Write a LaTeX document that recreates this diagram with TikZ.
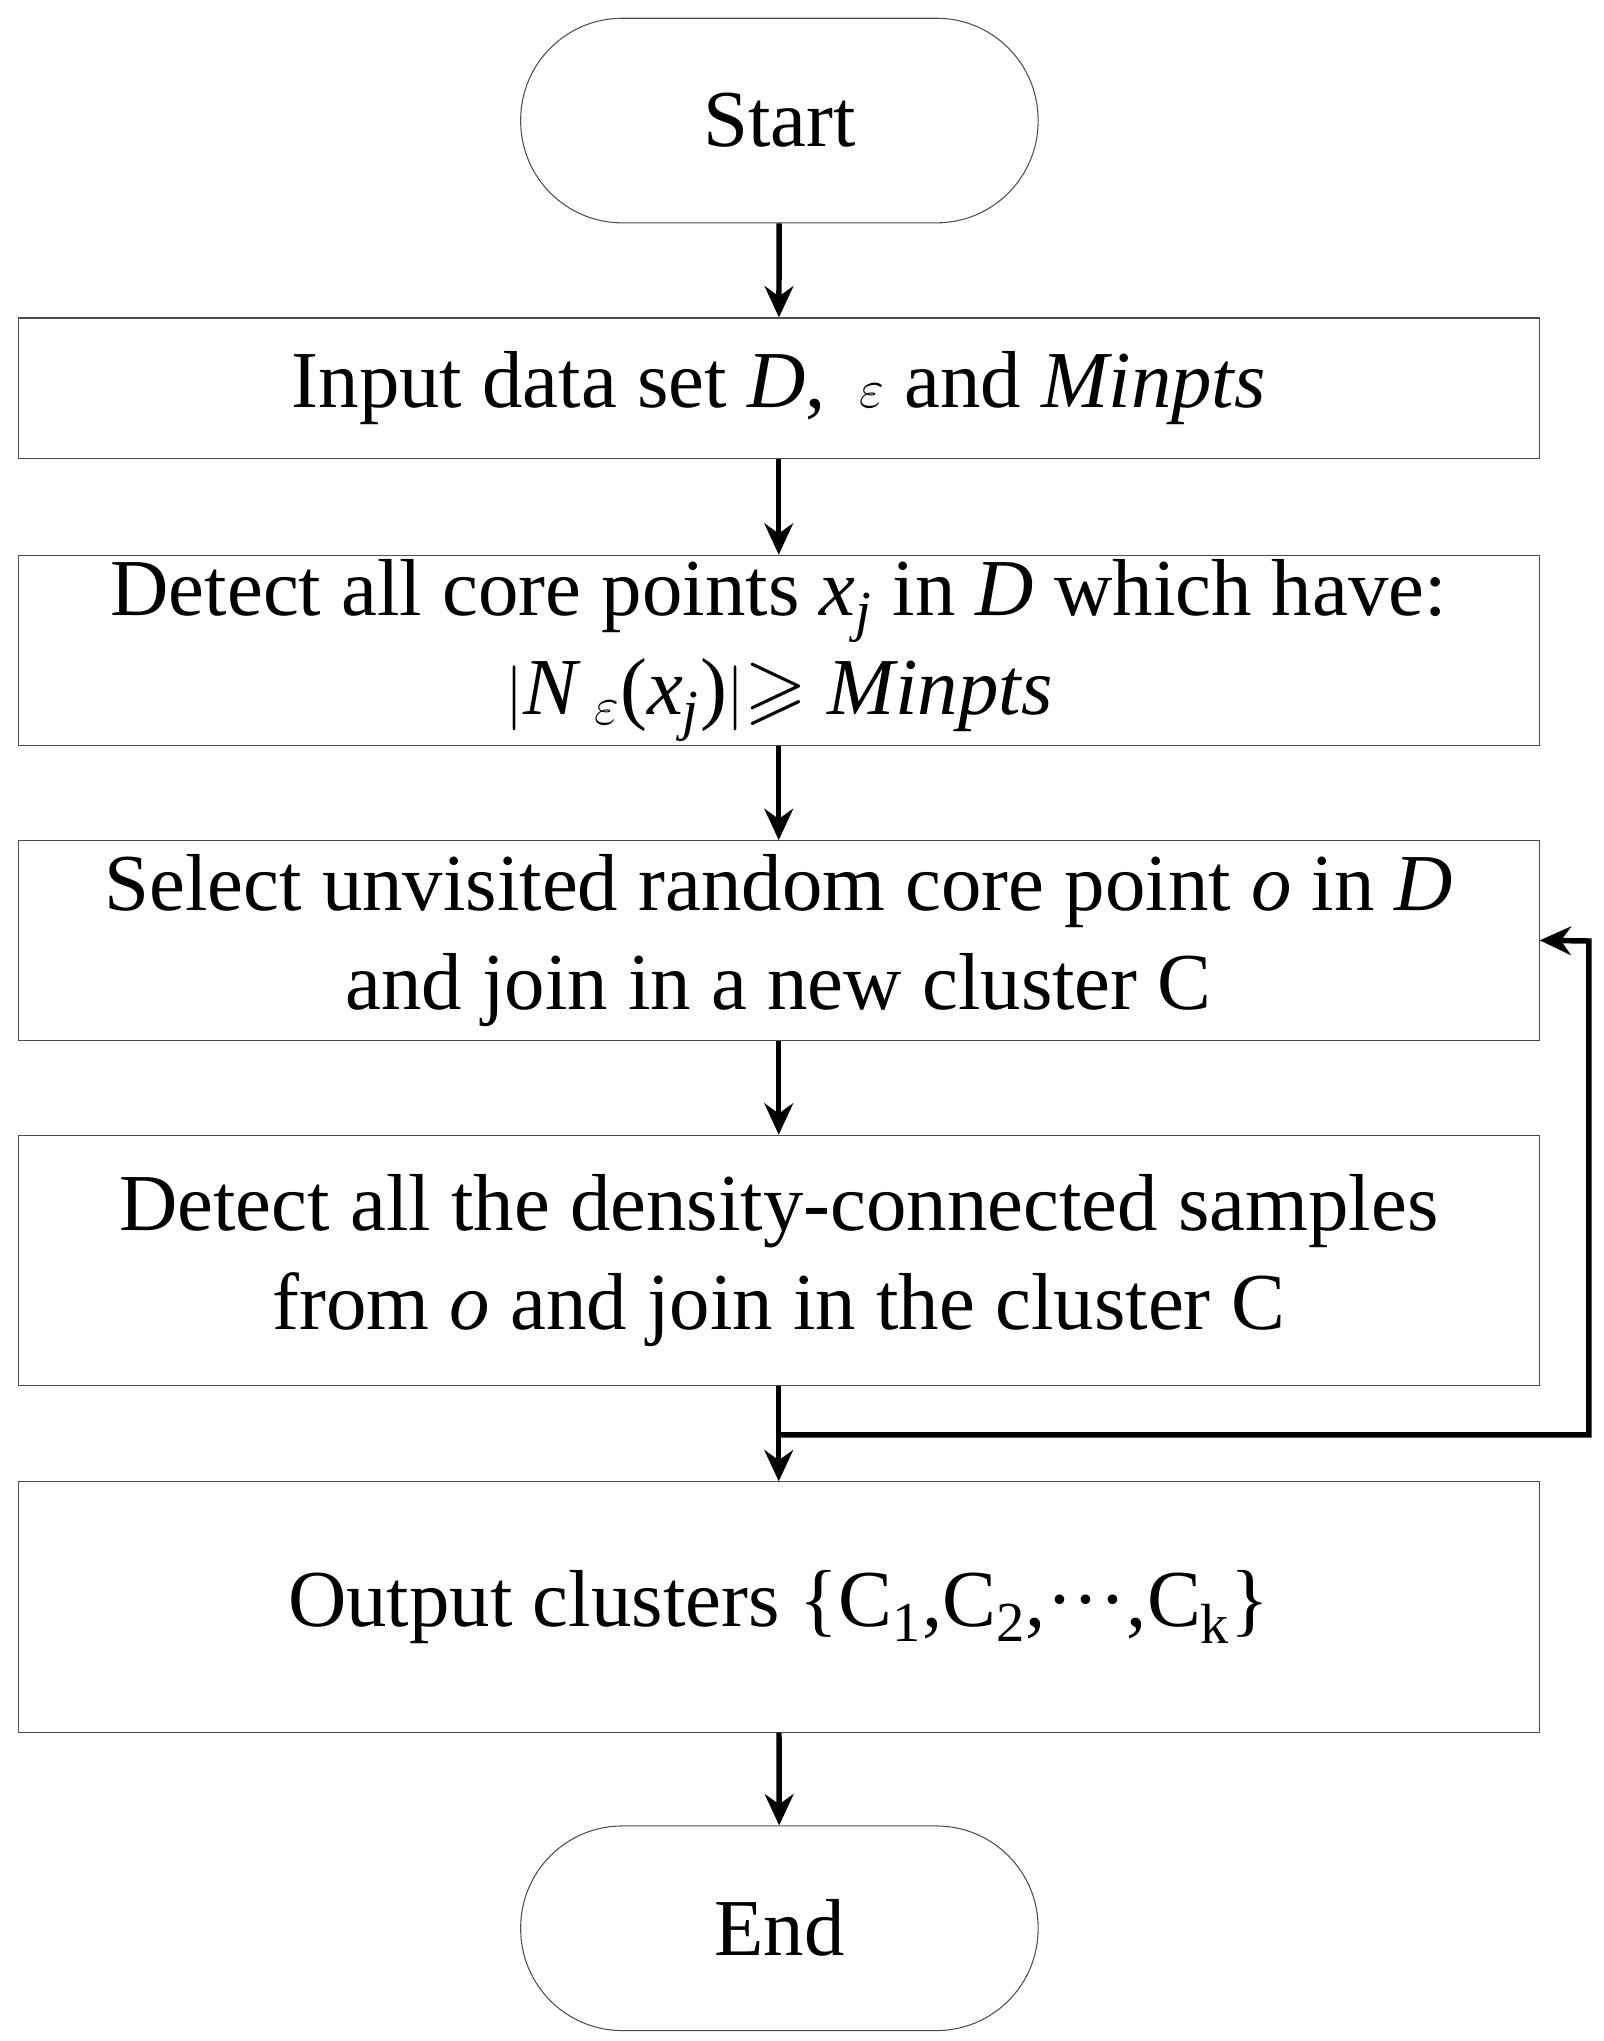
\documentclass[tikz,border=0pt]{standalone}
\usepackage{fontspec}
\usepackage{amssymb}
\setmainfont{Liberation Serif}
\usetikzlibrary{arrows.meta}
\begin{document}
\begin{tikzpicture}[x=0.5pt,y=-0.5pt,
  box/.style={draw=black!70,line width=0.4pt,minimum width=583.5pt,align=center,font=\fontsize{31}{38}\selectfont,inner sep=0pt},
  term/.style={draw=black!70,line width=0.4pt,rounded corners=39pt,minimum width=198.5pt,minimum height=78.5pt,font=\fontsize{31}{37}\selectfont},
  arr/.style={line width=2.1pt,-{Stealth[length=12pt,width=11pt]}}]
\useasboundingbox (0,0) rectangle (1230,1566);
\node[term] (s) at (598,92.5) {Start};
\node[box,minimum height=54pt] (b1) at (597.5,298) {Input data set \textit{D}, \,{\fontsize{20}{20}\selectfont$\varepsilon$} and \textit{Minpts}};
\node[box,minimum height=73pt] (b2) at (597.5,499) {Detect all core points \textit{x\textsubscript{j}} in \textit{D} which have:\\ $|$\textit{N}\,\textsubscript{$\varepsilon$}(\textit{x\textsubscript{j}})$|$$\geqslant$ \textit{Minpts}};
\node[box,minimum height=76.5pt] (b3) at (597.5,721.5) {Select unvisited random core point \textit{o} in \textit{D}\\ and join in a new cluster C};
\node[box,minimum height=96pt] (b4) at (597.5,967) {Detect all the density-connected samples\\ from \textit{o} and join in the cluster C};
\node[box,minimum height=96pt] (b5) at (597.5,1233) {Output clusters \{C\textsubscript{1},C\textsubscript{2},\textperiodcentered\textperiodcentered\textperiodcentered,C\textsubscript{k}\}};
\node[term] (e) at (598,1479.5) {End};
\draw[arr] (s) -- (b1);
\draw[arr] (b1) -- (b2);
\draw[arr] (b2) -- (b3);
\draw[arr] (b3) -- (b4);
\draw[arr] (b4) -- (b5);
\draw[arr] (b5) -- (e);
\coordinate (j) at (598,1101);
\draw[arr] (j) -- (1219,1101) -- (1219,722) -- (b3.east);
\end{tikzpicture}
\end{document}
